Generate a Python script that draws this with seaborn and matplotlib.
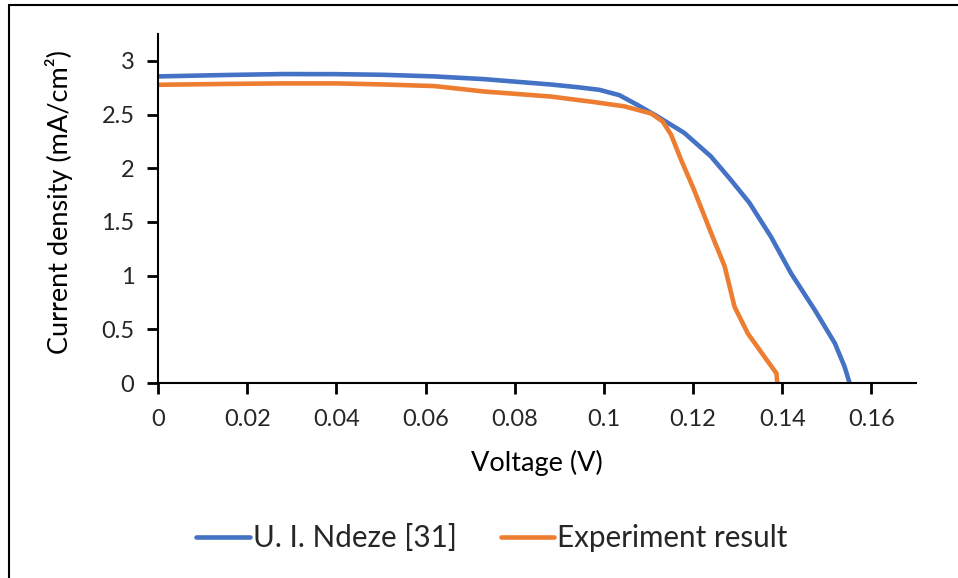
import pandas as pd
import matplotlib.pyplot as plt
import seaborn as sns
from matplotlib.lines import Line2D

# data
ndeze_v = [0, 0.015, 0.028, 0.04, 0.0506, 0.062, 0.073, 0.082, 0.088, 0.094,
           0.099, 0.1035, 0.1075, 0.1121, 0.118, 0.124, 0.1285, 0.1326, 0.1375,
           0.142, 0.1473, 0.1518, 0.154, 0.1551]
ndeze_j = [2.855, 2.868, 2.877, 2.876, 2.87, 2.855, 2.83, 2.80, 2.78, 2.755,
           2.73, 2.68, 2.59, 2.48, 2.33, 2.11, 1.89, 1.68, 1.36,
           1.02, 0.68, 0.37, 0.15, 0.0]

exp_v = [0, 0.015, 0.0281, 0.04, 0.0506, 0.062, 0.073, 0.088, 0.0971, 0.1045,
         0.1106, 0.1132, 0.1151, 0.1173, 0.1202, 0.1244, 0.1271, 0.1293, 0.1323,
         0.136, 0.1387, 0.1389]
exp_j = [2.777, 2.785, 2.79, 2.79, 2.78, 2.765, 2.715, 2.668, 2.62, 2.577,
         2.51, 2.435, 2.31, 2.08, 1.80, 1.36, 1.085, 0.71, 0.46,
         0.245, 0.09, 0.0]

series_names = ['U. I. Ndeze [31]', 'Experiment result']
x_ticks = [0, 0.02, 0.04, 0.06, 0.08, 0.1, 0.12, 0.14, 0.16]
x_tick_labels = ['0', '0.02', '0.04', '0.06', '0.08', '0.1', '0.12', '0.14', '0.16']
y_ticks = [0, 0.5, 1, 1.5, 2, 2.5, 3]
y_tick_labels = ['0', '0.5', '1', '1.5', '2', '2.5', '3']

df = pd.concat([
    pd.DataFrame({'Voltage': ndeze_v, 'Current': ndeze_j, 'Series': series_names[0]}),
    pd.DataFrame({'Voltage': exp_v, 'Current': exp_j, 'Series': series_names[1]}),
], ignore_index=True)

sns.set_theme(style='ticks')
plt.rcParams['font.family'] = ['Lato', 'DejaVu Sans']

fig = plt.figure(figsize=(9.58, 5.78), dpi=100)
ax = fig.add_axes([158 / 958, 1 - 383 / 578, (916 - 158) / 958, (383 - 34) / 578])

palette = {series_names[0]: '#4472C4', series_names[1]: '#ED7D31'}
sns.lineplot(data=df, x='Voltage', y='Current', hue='Series', palette=palette,
             sort=False, estimator=None, linewidth=3.3, ax=ax, legend=False)
for line in ax.get_lines():
    line.set_solid_capstyle('round')
    line.set_solid_joinstyle('round')

ax.set_xlim(0, 0.17)
ax.set_ylim(0, 3.25)
ax.set_xticks(x_ticks, labels=x_tick_labels)
ax.set_yticks(y_ticks, labels=y_tick_labels)

sns.despine(ax=ax)
for side in ['left', 'bottom']:
    ax.spines[side].set_color('black')
    ax.spines[side].set_linewidth(1.5)

ax.set_xlabel('Voltage (V)', fontsize=19.5, color='black', labelpad=14)
ax.set_ylabel('Current density (mA/cm²)', fontsize=19.5, color='black')
ax.yaxis.set_label_coords((73 - 158) / 758, 0.52)

handles = [Line2D([], [], color=palette[n], linewidth=3.3, solid_capstyle='round')
           for n in series_names]
fig.legend(handles, series_names, loc='center', bbox_to_anchor=(492 / 958, 1 - 538 / 578),
           ncol=2, frameon=False, fontsize=21.3, handlelength=1.8, handletextpad=0.1,
           columnspacing=1.5)

# outer frame (only left and top edges are inside the picture)
fig.add_artist(Line2D([8.5 / 958, 8.5 / 958], [0, 1 - 5 / 578], color='black',
                      linewidth=1.5, transform=fig.transFigure))
fig.add_artist(Line2D([8.5 / 958, 1], [1 - 5 / 578, 1 - 5 / 578], color='black',
                      linewidth=1.5, transform=fig.transFigure))

# tick marks
ax.xaxis.set_ticks_position('bottom')
ax.yaxis.set_ticks_position('left')
ax.tick_params(axis='x', which='major', bottom=True, direction='out', length=8,
               width=2, color='black', labelsize=17, pad=11)
ax.tick_params(axis='y', which='major', left=True, direction='out', length=8,
               width=2, color='black', labelsize=17, pad=9)

fig.savefig('out.png', dpi=100, facecolor='white')
